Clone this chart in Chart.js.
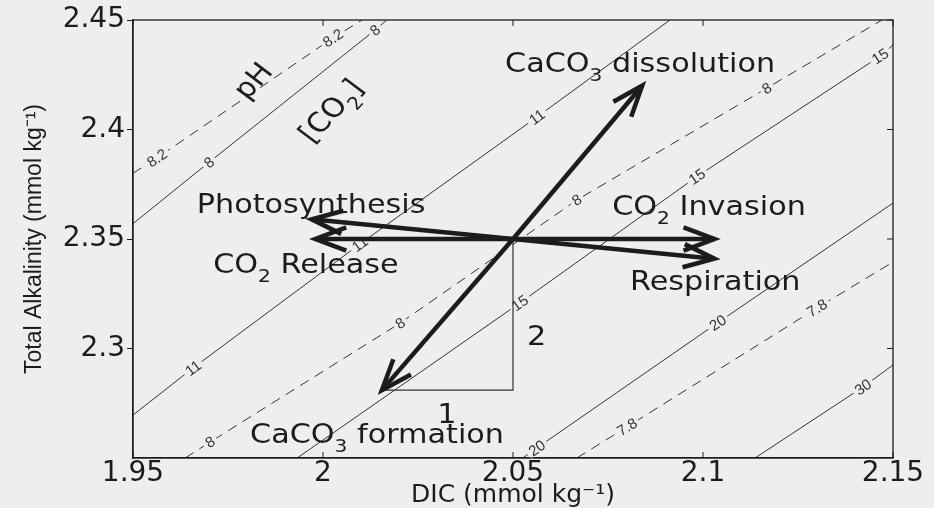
<!DOCTYPE html>
<html>
<head>
<meta charset="utf-8">
<script src="https://cdn.jsdelivr.net/npm/chart.js@4.4.1/dist/chart.umd.min.js"></script>
<style>
  html, body { margin: 0; padding: 0; background: #eeeeee; }
</style>
</head>
<body>
<canvas id="c" width="934" height="508"></canvas>
<script>
//-----------------Data (DIC, TA in mmol/kg)
const dicTicks = [1.95, 2, 2.05, 2.1, 2.15]
const taTicks  = [2.3, 2.35, 2.4, 2.45]

// [CO2] isolines, solid
const co2_8  = [[1.95, 2.357], [1.970, 2.385], [2.0137, 2.4454], [2.0168, 2.45]]
const co2_11 = [[1.95, 2.2696], [1.9658, 2.2911], [2.0097, 2.3477], [2.0563, 2.4057], [2.0913, 2.45]]
const co2_15 = [[1.9932, 2.25], [2.0518, 2.3208], [2.0984, 2.3785], [2.1466, 2.4335], [2.15, 2.4386]]
const co2_20 = [[2.0526, 2.25], [2.0563, 2.2546], [2.1039, 2.3118], [2.15, 2.3664]]
const co2_30 = [[2.1137, 2.25], [2.1421, 2.2824], [2.15, 2.2925]]

// pH isolines, dashed
const ph_82 = [[1.95, 2.380], [1.9563, 2.387], [2.0026, 2.4418], [2.0103, 2.45]]
const ph_80 = [[1.9637, 2.25], [1.9703, 2.2573], [2.0203, 2.3116], [2.0668, 2.3678], [2.1168, 2.4189], [2.1471, 2.45]]
const ph_78 = [[2.0668, 2.25], [2.08, 2.2642], [2.13, 2.3185], [2.15, 2.3395]]

// process arrows, all start at the same point
const arrowStart  = [2.05, 2.35]
const arrowNames  = ['CaCO3 dissolution', 'CaCO3 formation', 'Photosynthesis', 'CO2 Release', 'CO2 Invasion', 'Respiration']
const arrowEndDIC = [2.084, 2.0155, 1.997, 1.998, 2.103, 2.103]
const arrowEndTA  = [2.42, 2.281, 2.359, 2.35, 2.35, 2.341]

// the 1:2 triangle under the formation arrow
const triDIC = [2.0155, 2.05, 2.05]
const triTA  = [2.281, 2.281, 2.35]

//-----------------Styles
const bg = '#eeeeee'
const ink = '#1c1c1c'
const thin = '#333333'
const sx = 1.12   // scan is stretched sideways

function isoline(pts, text, at, dashed){
  return {
    data: pts.map(p => ({x: p[0], y: p[1]})),
    showLine: true,
    borderColor: thin,
    borderWidth: 1,
    borderDash: dashed ? [10, 7] : [],
    pointRadius: 0,
    order: 3,
    clabel: text,
    clabelAt: at
  }
}

const datasets = [
  isoline(co2_8,  '8',  [1, 2], false),
  isoline(co2_11, '11', [1, 2, 3], false),
  isoline(co2_15, '15', [1, 2, 3], false),
  isoline(co2_20, '20', [1, 2], false),
  isoline(co2_30, '30', [1], false),
  isoline(ph_82, '8.2', [1, 2], true),
  isoline(ph_80, '8',   [1, 2, 3, 4], true),
  isoline(ph_78, '7.8', [1, 2], true),
  {
    data: triDIC.map((x, i) => ({x: x, y: triTA[i]})),
    showLine: true, borderColor: thin, borderWidth: 1.2, pointRadius: 0, order: 2
  }
]
arrowNames.forEach((n, i) => {
  datasets.push({
    label: n,
    data: [{x: arrowStart[0], y: arrowStart[1]}, {x: arrowEndDIC[i], y: arrowEndTA[i]}],
    showLine: true, borderColor: ink, borderWidth: 4.5, pointRadius: 0, order: 1,
    arrow: true
  })
})

// text on the plot, anchored in data units
const notes = [
  {parts: [['Photosynthesis']], x: 1.9668, y: 2.3619},
  {parts: [['CO'], ['2', 1], [' Release']], x: 1.9711, y: 2.3345},
  {parts: [['CaCO'], ['3', 1], [' dissolution']], x: 2.0479, y: 2.4263},
  {parts: [['CO'], ['2', 1], [' Invasion']], x: 2.0761, y: 2.3610},
  {parts: [['Respiration']], x: 2.0808, y: 2.3267},
  {parts: [['CaCO'], ['3', 1], [' formation']], x: 1.9808, y: 2.2568},
  {parts: [['1']], x: 2.0326, y: 2.2706, center: true},
  {parts: [['2']], x: 2.0537, y: 2.3016},
  {parts: [['pH']], x: 1.9813, y: 2.4226, center: true, rot: -50},
  {parts: [['[CO'], ['2', 1], [']']], x: 2.0018, y: 2.4089, center: true, rot: -50}
]

//-----------------Plugins
const background = {
  id: 'background',
  beforeDraw(chart){
    const ctx = chart.ctx
    ctx.save()
    ctx.fillStyle = bg
    ctx.fillRect(0, 0, chart.width, chart.height)
    ctx.restore()
  }
}

// contour labels sit in a gap of the line, like clabel
// arrow heads are drawn right after their shaft
const lineExtras = {
  id: 'lineExtras',
  afterDatasetDraw(chart, args){
    const ds = chart.data.datasets[args.index]
    const pts = args.meta.data
    const ctx = chart.ctx
    if (ds.clabel){
      ctx.save()
      ctx.font = '15px "Liberation Sans"'
      ctx.textAlign = 'center'
      ctx.textBaseline = 'middle'
      ds.clabelAt.forEach(i => {
        const p = pts[i]
        const a = pts[Math.max(i - 1, 0)]
        const b = pts[Math.min(i + 1, pts.length - 1)]
        const ang = Math.atan2(b.y - a.y, b.x - a.x)
        const w = ctx.measureText(ds.clabel).width
        ctx.save()
        ctx.translate(p.x, p.y)
        ctx.rotate(ang)
        ctx.fillStyle = bg
        ctx.fillRect(-w / 2 - 3, -6, w + 6, 12)
        ctx.fillStyle = thin
        ctx.fillText(ds.clabel, 0, 1)
        ctx.restore()
      })
      ctx.restore()
    }
    if (ds.arrow){
      const s = pts[0], t = pts[pts.length - 1]
      const ang = Math.atan2(t.y - s.y, t.x - s.x)
      const L = 33, h = 0.36
      ctx.save()
      ctx.strokeStyle = ink
      ctx.lineWidth = 4.5
      ctx.lineJoin = 'miter'
      ctx.beginPath()
      ctx.moveTo(t.x - L * Math.cos(ang - h), t.y - L * Math.sin(ang - h))
      ctx.lineTo(t.x, t.y)
      ctx.lineTo(t.x - L * Math.cos(ang + h), t.y - L * Math.sin(ang + h))
      ctx.stroke()
      ctx.restore()
    }
  }
}

function drawParts(ctx, parts, center){
  let w = 0
  parts.forEach(p => {
    ctx.font = p[1] ? '18px "DejaVu Sans"' : '27px "DejaVu Sans"'
    w += ctx.measureText(p[0]).width
  })
  let x = center ? -w / 2 : 0
  const y = center ? 10 : 0
  parts.forEach(p => {
    ctx.font = p[1] ? '18px "DejaVu Sans"' : '27px "DejaVu Sans"'
    ctx.fillText(p[0], x, y + (p[1] ? 9 : 0))
    x += ctx.measureText(p[0]).width
  })
}

const annotations = {
  id: 'annotations',
  afterDraw(chart){
    const ctx = chart.ctx
    const xs = chart.scales.x, ys = chart.scales.y
    const area = chart.chartArea

    // frame and inward ticks (left/bottom border come from the axes)
    ctx.save()
    ctx.strokeStyle = ink
    ctx.lineWidth = 1.3
    ctx.strokeRect(area.left, area.top, area.right - area.left, area.bottom - area.top)
    ctx.lineWidth = 1
    dicTicks.forEach(v => {
      const px = xs.getPixelForValue(v)
      ctx.beginPath()
      ctx.moveTo(px, area.top); ctx.lineTo(px, area.top + 6)
      ctx.moveTo(px, area.bottom); ctx.lineTo(px, area.bottom - 6)
      ctx.stroke()
    })
    taTicks.forEach(v => {
      const py = ys.getPixelForValue(v)
      ctx.beginPath()
      ctx.moveTo(area.right, py); ctx.lineTo(area.right - 6, py)
      ctx.stroke()
    })
    ctx.restore()

    ctx.save()
    ctx.fillStyle = ink
    ctx.textBaseline = 'alphabetic'
    ctx.textAlign = 'left'
    notes.forEach(n => {
      ctx.save()
      ctx.translate(xs.getPixelForValue(n.x), ys.getPixelForValue(n.y))
      ctx.scale(sx, 1)
      if (n.rot) ctx.rotate(n.rot * Math.PI / 180)
      drawParts(ctx, n.parts, n.center)
      ctx.restore()
    })
    ctx.restore()
  }
}

//-----------------Chart
new Chart(document.getElementById('c'), {
  type: 'scatter',
  data: { datasets: datasets },
  options: {
    responsive: false,
    animation: false,
    events: [],
    devicePixelRatio: 1,
    layout: { padding: { top: 20, right: 41, left: 0, bottom: 0 } },
    plugins: { legend: { display: false }, tooltip: { enabled: false } },
    scales: {
      x: {
        type: 'linear',
        min: 1.95, max: 2.15,
        afterBuildTicks: s => { s.ticks = dicTicks.map(v => ({value: v})) },
        afterFit: s => { s.height = 50 },
        ticks: {
          callback: v => String(v),
          color: ink,
          padding: 2,
          maxRotation: 0,
          font: { family: 'DejaVu Sans', size: 28, lineHeight: 1 }
        },
        grid: { drawOnChartArea: false, drawTicks: false },
        border: { display: true, color: ink, width: 1.3 },
        title: {
          display: true,
          text: 'DIC (mmol kg⁻¹)',
          color: ink,
          padding: { top: 0, bottom: 0 },
          font: { family: 'DejaVu Sans', size: 25, lineHeight: 1 }
        }
      },
      y: {
        type: 'linear',
        min: 2.25, max: 2.45,
        afterBuildTicks: s => { s.ticks = taTicks.map(v => ({value: v})) },
        afterFit: s => { s.width = 133 },
        ticks: {
          callback: v => String(v),
          color: ink,
          padding: 2,
          font: { family: 'DejaVu Sans', size: 28, lineHeight: 1 }
        },
        grid: { drawOnChartArea: false, drawTicks: true, tickLength: 6, color: ink },
        border: { display: true, color: ink, width: 1.3 },
        title: {
          display: true,
          text: 'Total Alkalinity (mmol kg⁻¹)',
          color: ink,
          padding: { top: 23, bottom: 0 },
          font: { family: 'Liberation Sans', size: 23, lineHeight: 1 }
        }
      }
    }
  },
  plugins: [background, lineExtras, annotations]
})
</script>
</body>
</html>
